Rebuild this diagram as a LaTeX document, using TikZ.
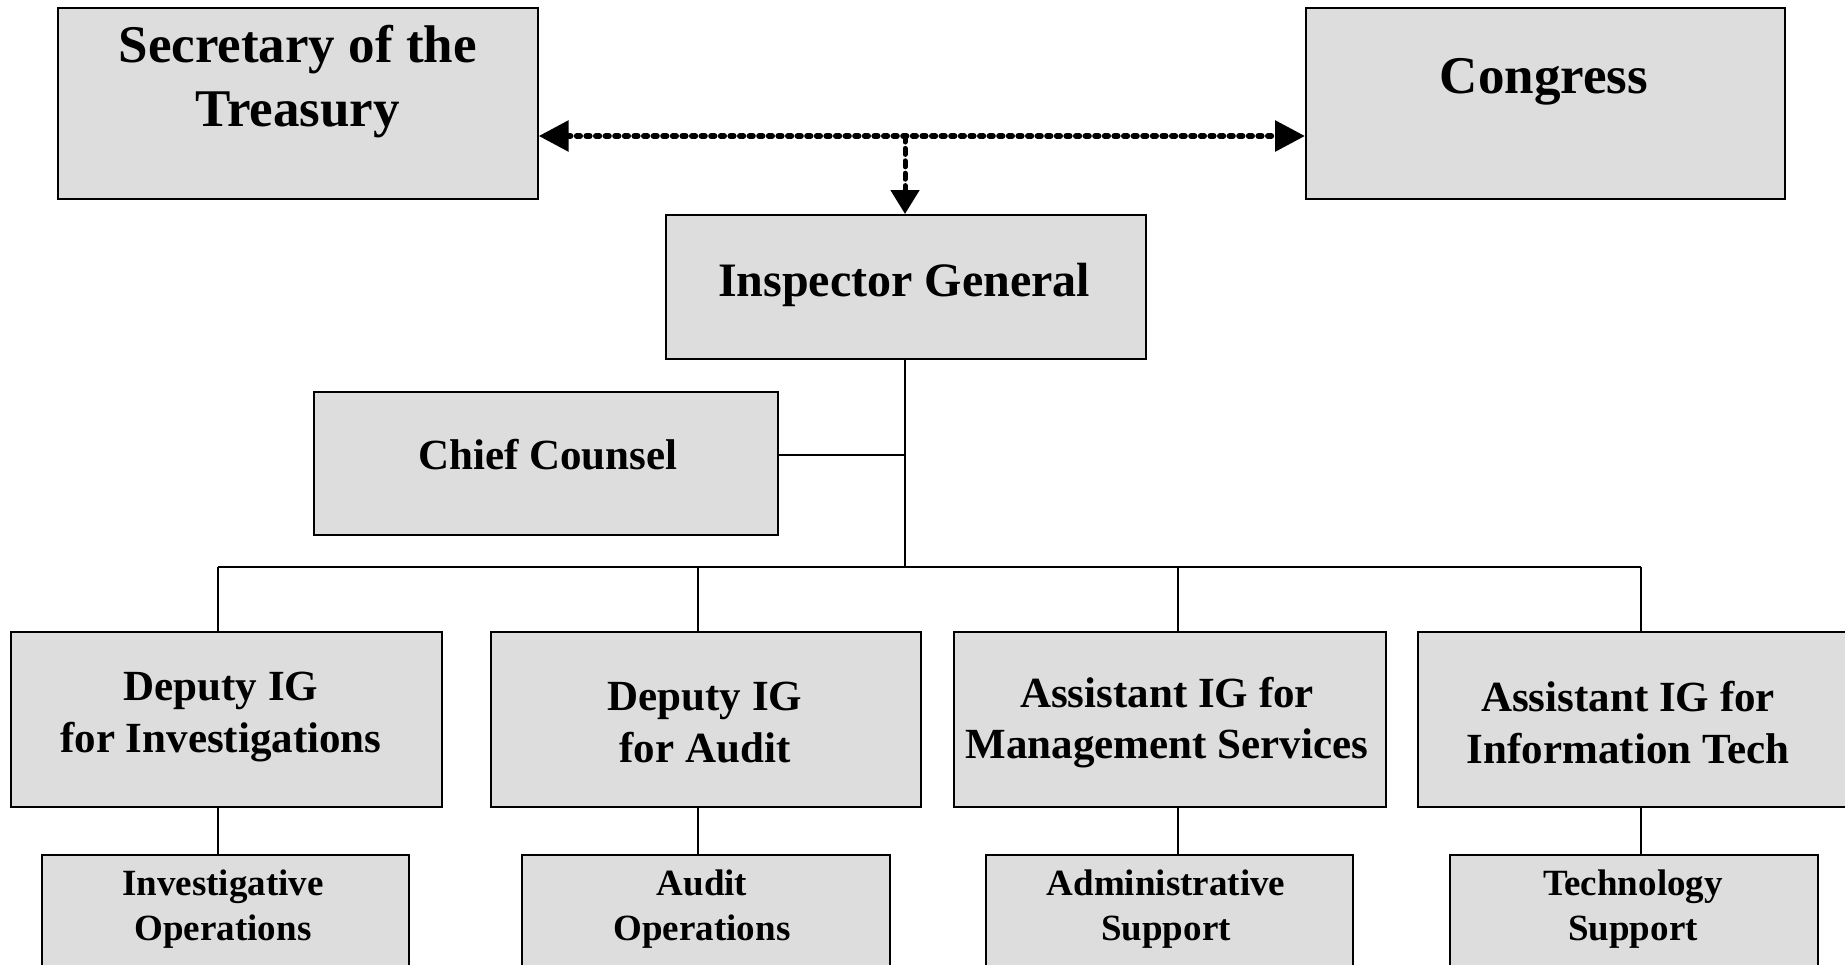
\documentclass[tikz,border=0pt]{standalone}
\usepackage{fontspec}
\setmainfont{Liberation Serif}
\usetikzlibrary{arrows.meta,fit}
\definecolor{boxgray}{RGB}{221,221,221}
\begin{document}
\begin{tikzpicture}[x=0.5pt,y=-0.5pt,
  box/.style={draw=black,line width=1pt,fill=boxgray,inner sep=0pt},
  txt/.style={align=center,inner sep=0pt,font=\bfseries},
  fa/.style={font=\fontsize{26.5}{31.8}\selectfont\bfseries},
  fb/.style={font=\fontsize{24}{28.8}\selectfont\bfseries},
  fc/.style={font=\fontsize{21.5}{25.9}\selectfont\bfseries},
  fd/.style={font=\fontsize{18.5}{22.4}\selectfont\bfseries},
  conn/.style={draw=black,line width=0.75pt},
  dotline/.style={draw=black,line width=3pt,line cap=round,dash pattern=on 1.6pt off 3.2pt},
  vdash/.style={draw=black,line width=2.5pt,line cap=round,dash pattern=on 3pt off 3.2pt}]
\clip (0,0) rectangle (1845,964);
\fill[white] (0,0) rectangle (1845,964);
% boxes
\node[box,fit={(57.7,8)(537.7,199)}] (sec) {};
\node[box,fit={(1306,8)(1785,199)}] (con) {};
\node[box,fit={(666,215)(1146,359)}] (ig) {};
\node[box,fit={(314,392)(778,535)}] (cc) {};
\node[box,fit={(10.6,632)(442,807)}] (da) {};
\node[box,fit={(491,632)(921,807)}] (db) {};
\node[box,fit={(954,632)(1386,807)}] (dc) {};
\node[box,fit={(1418,632)(1850,807)}] (dd) {};
\node[box,fit={(42,855)(409,1030)}] (oa) {};
\node[box,fit={(522,855)(890,1030)}] (ob) {};
\node[box,fit={(986,855)(1353,1030)}] (oc) {};
\node[box,fit={(1450,855)(1818,1030)}] (od) {};
% texts
\node[txt,fa] (sect) at (297.7,81.5) {Secretary of the\\Treasury};
\node[txt,fa] (cont) at (1544,82) {Congress};
\node[txt,fb] (igt) at (904,285) {Inspector General};
\node[txt,fc] (cct) at (547.7,455) {Chief Counsel};
\node[txt,fc] (dat) at (221,717) {Deputy IG\\for Investigations};
\node[txt,fc] (dbt) at (705,722.5) {Deputy IG\\for Audit};
\node[txt,fc] (dct) at (1167,722.5) {Assistant IG for\\Management Services};
\node[txt,fc] (ddt) at (1628,722.5) {Assistant IG for\\Information Tech};
\node[txt,fd] (oat) at (223,909) {Investigative\\Operations};
\node[txt,fd] (obt) at (702,909) {Audit\\Operations};
\node[txt,fd] (oct) at (1166,909) {Administrative\\Support};
\node[txt,fd] (odt) at (1633,909) {Technology\\Support};
% connector coordinates
\coordinate (j) at (905,136);
\coordinate (ccj) at (905,455);
\coordinate (t) at (905,567);
\coordinate (ca) at (218,567);
\coordinate (cb) at (698,567);
\coordinate (cc2) at (1178,567);
\coordinate (cd) at (1641,567);
% dashed arrows
\draw[vdash,-{Triangle[length=12pt,width=14pt]}] (j) -- (j |- ig.north);
\draw[dotline,{Triangle[length=15pt,width=15pt]}-{Triangle[length=15pt,width=15pt]}] (j -| sec.east) -- (j -| con.west);
% tree
\draw[conn] (j |- ig.south) -- (t);
\draw[conn] (ccj -| cc.east) -- (ccj);
\draw[conn] (ca) -- (cd);
\foreach \c/\d/\o in {ca/da/oa,cb/db/ob,cc2/dc/oc,cd/dd/od}{
  \draw[conn] (\c) -- (\c |- \d.north);
  \draw[conn] (\c |- \d.south) -- (\c |- \o.north);
}
\end{tikzpicture}
\end{document}
